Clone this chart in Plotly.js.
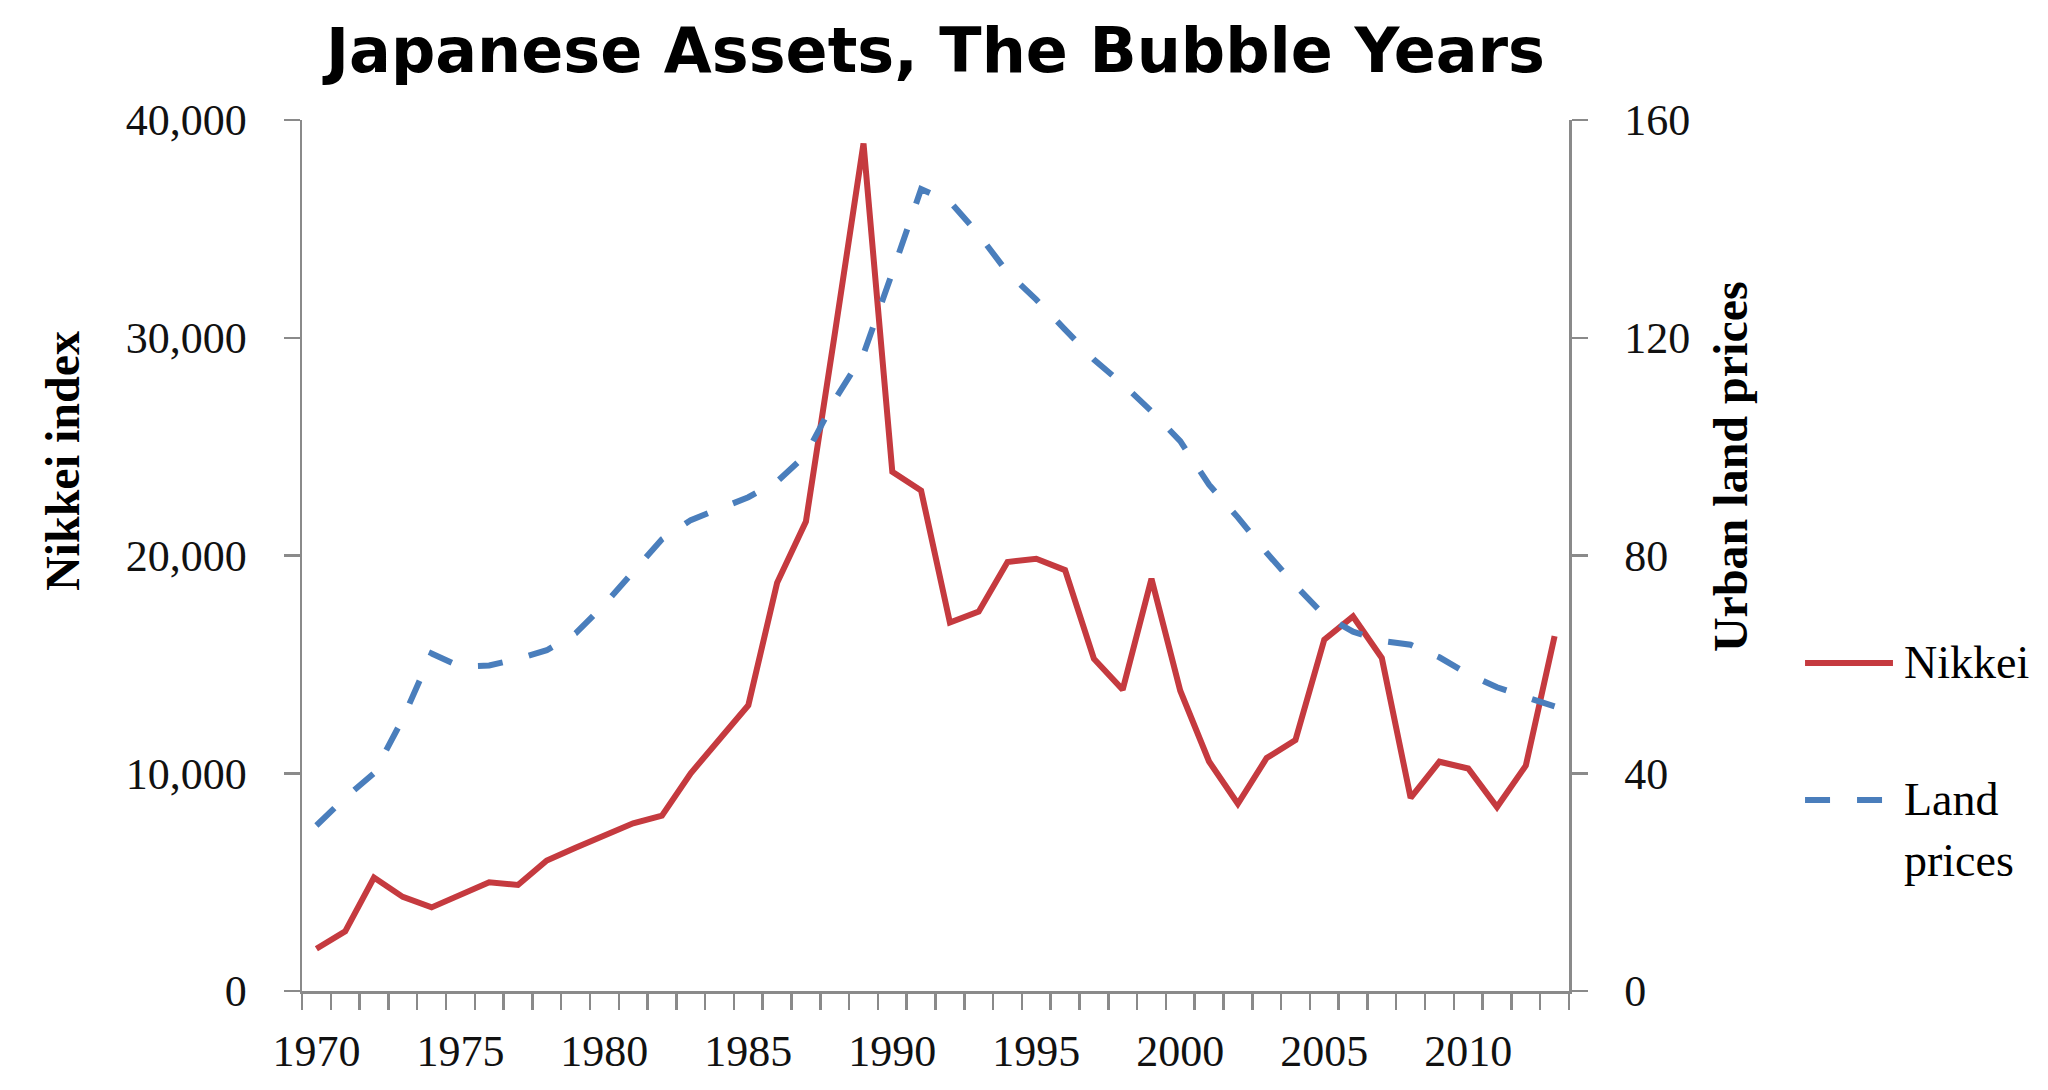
<!DOCTYPE html>
<html>
<head>
<meta charset="utf-8">
<script src="https://cdn.plot.ly/plotly-3.0.1.min.js"></script>
<style>
html, body { margin: 0; padding: 0; background: #ffffff; }
#chart { width: 2048px; height: 1090px; }
</style>
</head>
<body>
<div id="chart"></div>
<script>
// ---- data ----
const years = [1970, 1971, 1972, 1973, 1974, 1975, 1976, 1977, 1978, 1979,
               1980, 1981, 1982, 1983, 1984, 1985, 1986, 1987, 1988, 1989,
               1990, 1991, 1992, 1993, 1994, 1995, 1996, 1997, 1998, 1999,
               2000, 2001, 2002, 2003, 2004, 2005, 2006, 2007, 2008, 2009,
               2010, 2011, 2012, 2013];

const nikkei = [1940, 2740, 5210, 4320, 3840, 4380, 4990, 4870, 5990, 6580,
                7140, 7700, 8050, 10000, 11560, 13120, 18750, 21560, 30160, 38920,
                23850, 22980, 16920, 17420, 19700, 19850, 19330, 15260, 13840, 18930,
                13790, 10540, 8600, 10700, 11520, 16130, 17200, 15290, 8870, 10530,
                10220, 8450, 10350, 16300];

const landPrices = [30.4, 35.5, 40, 50, 62, 59.6, 59.8, 61, 62.6, 65.7,
                    71, 77, 83, 86.5, 88.7, 90.7, 93.6, 98.5, 108.6, 117,
                    132, 147.3, 145, 139, 132, 127, 121.5, 116, 111.5, 106.5,
                    101, 93, 87, 80.5, 74.5, 69, 66, 64.3, 63.6, 61.3,
                    58.2, 55.8, 54, 52.3];

const xTickYears = [1970, 1975, 1980, 1985, 1990, 1995, 2000, 2005, 2010];
const leftTicks = [0, 10000, 20000, 30000, 40000];
const rightTicks = [0, 40, 80, 120, 160];

const seriesNames = ['Nikkei', 'Land prices'];
const titleText = 'Japanese Assets, The Bubble Years';
const leftTitle = 'Nikkei index';
const rightTitle = 'Urban land prices';

// ---- styles ----
const RED = '#C53A3F';
const BLUE = '#4A7EBC';
const AXIS = '#8a8a8a';
const SERIF = '"Liberation Serif", "Times New Roman", serif';

const traces = [
  {
    x: years, y: nikkei, type: 'scatter', mode: 'lines', name: seriesNames[0],
    line: { color: RED, width: 6 }, yaxis: 'y', showlegend: false
  },
  {
    x: years, y: landPrices, type: 'scatter', mode: 'lines', name: seriesNames[1],
    line: { color: BLUE, width: 6, dash: '25px,27px' }, yaxis: 'y2', showlegend: false
  }
];

const commonAxis = {
  showgrid: false, zeroline: false, showline: true,
  linecolor: AXIS, linewidth: 2.5,
  tickcolor: AXIS, tickwidth: 2.5,
  tickfont: { family: SERIF, size: 44, color: '#111' }
};

const layout = {
  width: 2048, height: 1090,
  paper_bgcolor: '#ffffff', plot_bgcolor: '#ffffff',
  margin: { l: 302, r: 479, t: 120, b: 99, pad: 0 },
  showlegend: false,
  title: {
    text: '<b>' + titleText + '</b>',
    font: { family: '"DejaVu Sans", Verdana, sans-serif', size: 62, color: '#000' },
    x: 0.5, xref: 'paper', xanchor: 'center',
    y: 0.954, yref: 'container', yanchor: 'middle'
  },
  xaxis: Object.assign({}, commonAxis, {
    range: [years[0] - 0.5, years[years.length - 1] + 0.5],
    tickmode: 'array', tickvals: xTickYears, ticktext: xTickYears.map(String),
    ticks: '', ticklabelstandoff: 20,
    minor: { tickmode: 'linear', tick0: years[0] - 0.5, dtick: 1,
             ticks: 'outside', ticklen: 16, tickwidth: 2.5, tickcolor: AXIS, showgrid: false }
  }),
  yaxis: Object.assign({}, commonAxis, {
    range: [0, 40000], tickmode: 'array', tickvals: leftTicks,
    ticktext: leftTicks.map(v => v.toLocaleString('en-US')),
    ticks: 'outside', ticklen: 16, ticklabelstandoff: 28
  }),
  yaxis2: Object.assign({}, commonAxis, {
    range: [0, 160], tickmode: 'array', tickvals: rightTicks,
    ticktext: rightTicks.map(String),
    overlaying: 'y', side: 'right', anchor: 'x',
    ticks: 'outside', ticklen: 16, ticklabelstandoff: 28
  }),
  annotations: [
    { text: leftTitle, textangle: -90, xref: 'paper', yref: 'paper',
      x: -0.1886, y: 0.6085, xanchor: 'center', yanchor: 'middle', showarrow: false,
      font: { family: SERIF, size: 48, color: '#000', weight: 'bold' } },
    { text: rightTitle, textangle: -90, xref: 'paper', yref: 'paper',
      x: 1.1271, y: 0.6016, xanchor: 'center', yanchor: 'middle', showarrow: false,
      font: { family: SERIF, size: 48, color: '#000', weight: 'bold' } },
    { text: seriesNames[0], xref: 'paper', yref: 'paper',
      x: 1.2628, y: 0.3766, xanchor: 'left', yanchor: 'middle', showarrow: false,
      font: { family: SERIF, size: 46, color: '#000' } },
    { text: 'Land', xref: 'paper', yref: 'paper',
      x: 1.2628, y: 0.2193, xanchor: 'left', yanchor: 'middle', showarrow: false,
      font: { family: SERIF, size: 46, color: '#000' } },
    { text: 'prices', xref: 'paper', yref: 'paper',
      x: 1.2628, y: 0.1493, xanchor: 'left', yanchor: 'middle', showarrow: false,
      font: { family: SERIF, size: 46, color: '#000' } }
  ],
  shapes: [
    { type: 'line', xref: 'paper', yref: 'paper', x0: 1.1863, x1: 1.2557, y0: 0.3766, y1: 0.3766,
      line: { color: RED, width: 6 } },
    { type: 'line', xref: 'paper', yref: 'paper', x0: 1.1863, x1: 1.2494, y0: 0.2193, y1: 0.2193,
      line: { color: BLUE, width: 6, dash: '25px,27px' } }
  ]
};

Plotly.newPlot('chart', traces, layout, { staticPlot: true, displayModeBar: false });
</script>
</body>
</html>
